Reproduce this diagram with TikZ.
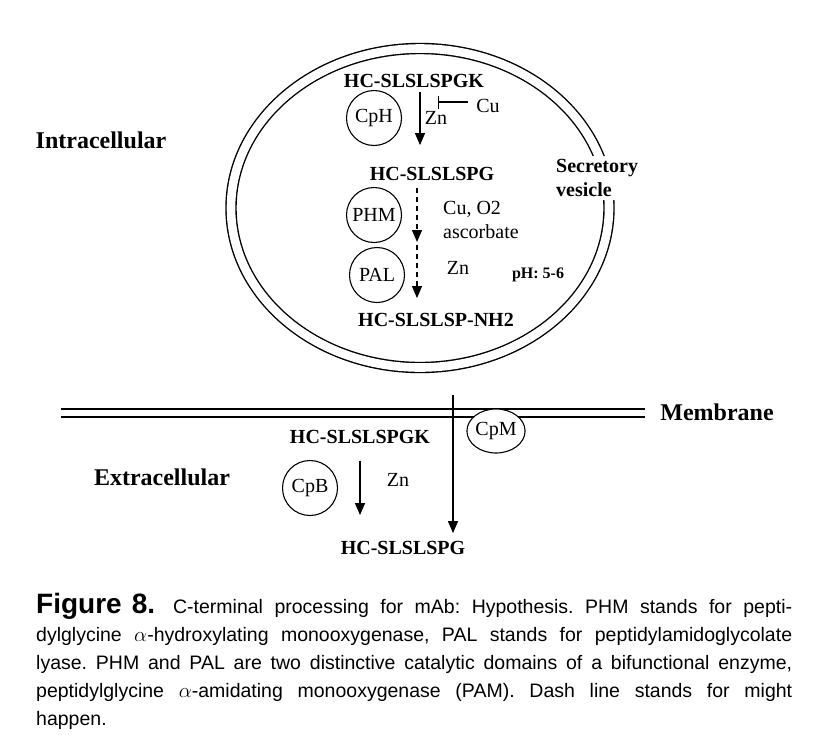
\documentclass[tikz,border=0pt]{standalone}
\usepackage{fontspec}
\setmainfont{Liberation Serif}
\newfontfamily\capfont{Liberation Sans}
\usetikzlibrary{arrows.meta}
\usetikzlibrary{positioning}
\usetikzlibrary{shapes.geometric}

\tikzset{
  pep/.style={font=\fontsize{20}{24}\selectfont\bfseries, inner sep=2pt},
  lbl/.style={font=\fontsize{20}{24}\selectfont, inner sep=2pt},
  region/.style={font=\fontsize{24}{28}\selectfont\bfseries, inner sep=2pt},
  enz/.style={circle, draw, line width=1.1pt, minimum size=55pt, inner sep=0pt,
    fill=white, font=\fontsize{20}{24}\selectfont},
  arr/.style={line width=1.3pt, -{Triangle[width=10pt,length=12pt]}},
  darr/.style={arr, dash pattern=on 5pt off 4pt},
  wall/.style={double, line width=1.4pt, double distance=8.6pt},
}

\begin{document}
\begin{tikzpicture}[x=1pt,y=-1pt]
\useasboundingbox (0,0) rectangle (814,742);

% secretory vesicle
\draw[wall] (420,208) ellipse [x radius=189pt, y radius=159.5pt];
\node[pep, fill=white, align=left, anchor=west, inner sep=3pt] (ves) at (553,178) {Secretory\\vesicle};

\node[region] (intra) at (101,140) {Intracellular};
\node[region] (extra) at (162,477) {Extracellular};

% inside the vesicle
\node[pep] (pk1) at (414,81) {HC-SLSLSPGK};
\node[enz] (cph) at (374,118) {CpH};
\node[lbl] (zn1) at (436,118) {Zn};
\node[lbl] (cu) at (488,106) {Cu};
\coordinate (cubar) at (438,102);
\node[pep] (pg1) at (432,174) {HC-SLSLSPG};
\node[enz] (phm) at (374,215) {PHM};
\node[enz] (pal) at (377,275) {PAL};
\node[lbl, align=left, anchor=west] (cuo) at (441,220) {Cu, O2\\ascorbate};
\node[lbl] (zn2) at (458,268) {Zn};
\node[pep, font=\fontsize{16}{20}\selectfont\bfseries] (ph) at (538,275) {pH: 5-6};
\node[pep] (nh2) at (436,320) {HC-SLSLSP-NH2};
\coordinate (hyd) at (417,243.5);

\draw[arr, shorten <=2pt, shorten >=20pt] ([xshift=6pt]pk1.south) -- ([xshift=6pt]pk1.south |- pg1.north);
\draw[line width=1.1pt, -{Bar[width=13pt,line width=1.1pt]}, shorten <=6pt] (cu.west |- cubar) -- (cubar);
\draw[darr, shorten <=5pt, shorten >=1.5pt] (pg1.south -| hyd) -- (hyd);
\draw[darr, shorten <=1.5pt, shorten >=13pt] (hyd) -- (nh2.north -| hyd);

% membrane
\draw[double, line width=1.8pt, double distance=6pt] (61,413) -- (645,413);
\node[region] (memtxt) at (717,412) {Membrane};

% outside
\node[pep] (pk3) at (360,437) {HC-SLSLSPGK};
\node[enz] (cpb) at (310,488) {CpB};
\node[lbl] (zn3) at (398,480) {Zn};
\node[pep] (pg3) at (403,548) {HC-SLSLSPG};
\coordinate (cpmtop) at (453,395);
\draw[arr, shorten <=15pt, shorten >=24pt] (pk3.south) -- (pk3.south |- pg3.north);
\draw[arr, shorten >=6pt] (cpmtop) -- (cpmtop |- pg3.north);
\node[enz, ellipse, minimum width=55pt, minimum height=44pt] (cpm) at (496,431) {CpM};

% caption
\node[anchor=base west, inner sep=0pt, text width=756pt, align=justify,
  font=\capfont\fontsize{19.5}{28}\selectfont] (cap) at (36,613)
  {\hyphenpenalty=10000\exhyphenpenalty=10000\frenchspacing
  {\fontsize{28}{28}\selectfont\bfseries Figure\hspace{10pt}8.}\hspace{18pt}C-terminal processing for mAb: Hypothesis. PHM stands for pepti-\linebreak
  dylglycine $\alpha$-hydroxylating monooxygenase, PAL stands for peptidylamidoglycolate\linebreak
  lyase. PHM and PAL are two distinctive catalytic domains of a bifunctional enzyme,\linebreak
  peptidylglycine $\alpha$-amidating monooxygenase (PAM). Dash line stands for might\linebreak
  happen.};
\end{tikzpicture}
\end{document}
